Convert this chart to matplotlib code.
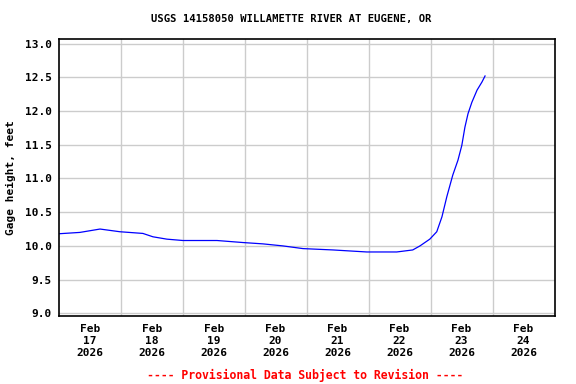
import matplotlib
matplotlib.use("Agg")
import matplotlib.pyplot as plt

# =========================
# DATA (hours since Feb 17 00:00, gage height in feet)
# =========================
hours = [0.0, 8.2, 16.0, 23.7, 32.6, 36.5, 41.9, 48.1, 61.3, 71.3, 79.1, 86.8,
         94.6, 106.2, 119.3, 130.9, 137.1, 139.9, 143.7, 146.4, 148.4, 150.3,
         152.6, 154.6, 156.1, 157.3, 158.5, 160.0, 162.0, 163.9, 165.1]
gage = [10.18, 10.20, 10.25, 10.21, 10.185, 10.135, 10.10, 10.08, 10.08, 10.05,
        10.03, 10.00, 9.96, 9.94, 9.91, 9.91, 9.94, 10.00, 10.10, 10.21, 10.43,
        10.73, 11.05, 11.27, 11.49, 11.76, 11.96, 12.13, 12.31, 12.43, 12.52]

day_labels = ["Feb\n17\n2026", "Feb\n18\n2026", "Feb\n19\n2026", "Feb\n20\n2026",
              "Feb\n21\n2026", "Feb\n22\n2026", "Feb\n23\n2026", "Feb\n24\n2026"]
y_ticks = [9.0, 9.5, 10.0, 10.5, 11.0, 11.5, 12.0, 12.5, 13.0]

title = "USGS 14158050 WILLAMETTE RIVER AT EUGENE, OR"
footer = "---- Provisional Data Subject to Revision ----"

# =========================
# PLOT
# =========================
plt.rcParams["font.family"] = "DejaVu Sans Mono"
plt.rcParams["font.weight"] = "bold"

fig = plt.figure(figsize=(5.76, 3.84), dpi=100)
ax = fig.add_axes([0.1019, 0.177, 0.8608, 0.7207])

ax.plot(hours, gage, color="#0000ff", linewidth=0.9)

ax.set_xlim(0, 24 * len(day_labels))
ax.set_ylim(8.96, 13.064)

ax.set_yticks(y_ticks)
ax.set_yticklabels([f"{v:.1f}" for v in y_ticks], fontsize=8, fontweight="bold")
ax.set_xticks([12 + 24 * i for i in range(len(day_labels))])
ax.set_xticklabels(day_labels, fontsize=8, fontweight="bold", linespacing=1.25)
ax.set_xticks([24 * i for i in range(1, len(day_labels))], minor=True)

ax.tick_params(which="both", length=0)
ax.tick_params(axis="x", pad=6)
ax.tick_params(axis="y", pad=5)

ax.grid(which="minor", axis="x", color="#cccccc", linewidth=1)
ax.grid(which="major", axis="y", color="#cccccc", linewidth=1)
ax.set_axisbelow(True)

for s in ax.spines.values():
    s.set_linewidth(1.2)

ax.set_ylabel("Gage height, feet", fontsize=8, fontweight="bold", labelpad=6)

fig.text(0.505, 0.95, title, ha="center", va="center", fontsize=7.6, fontweight="bold")
fig.text(0.53, 0.022, footer, ha="center", va="center", fontsize=8.3,
         fontweight="bold", color="#ff0000")

fig.savefig("out.png", dpi=100)
